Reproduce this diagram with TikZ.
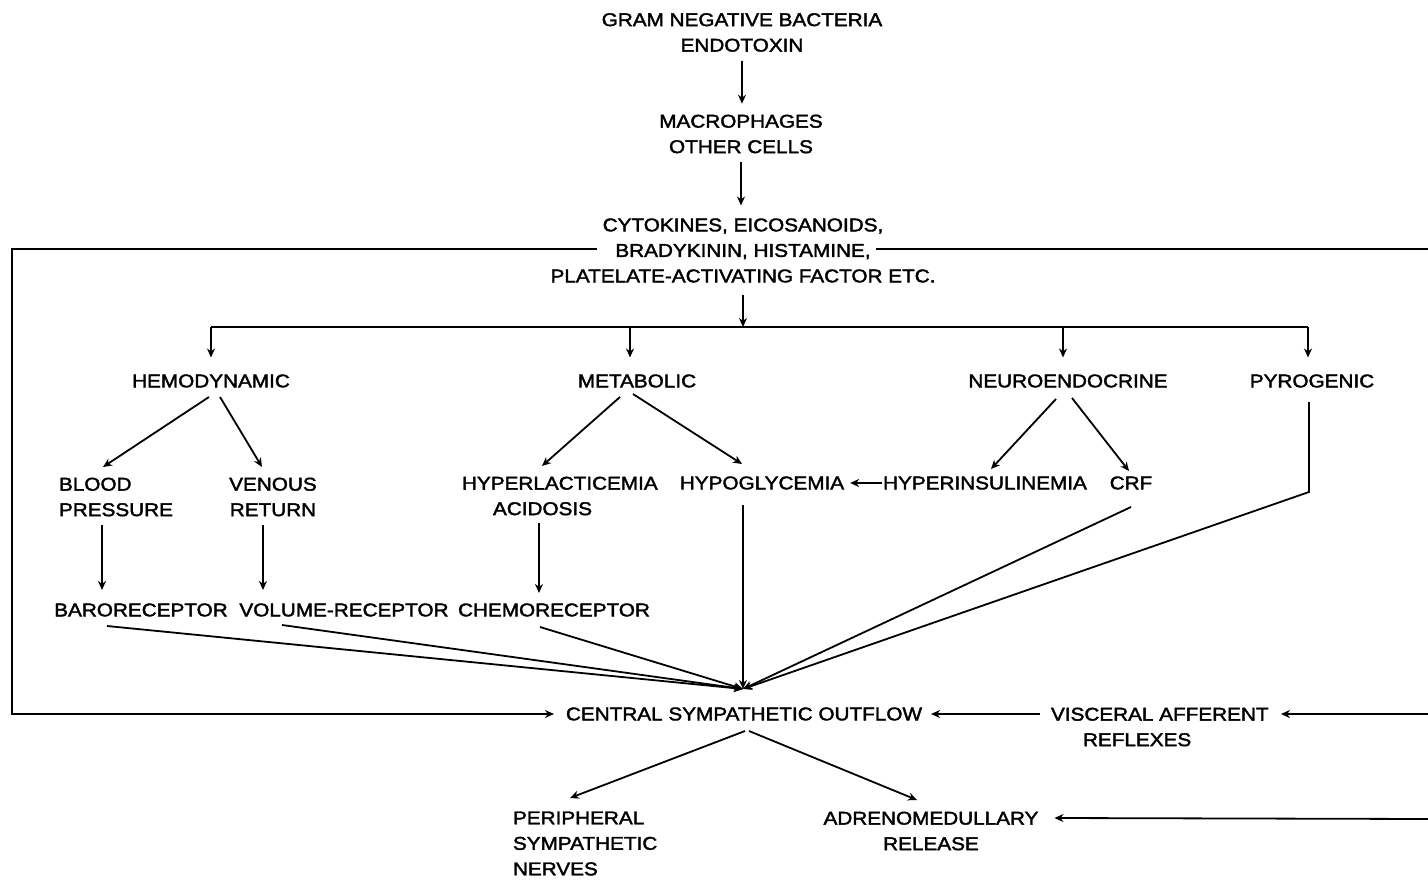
\documentclass[tikz,border=0pt]{standalone}
\usepackage{fontspec}
\setmainfont[FakeStretch=1.12,FakeBold=2]{Liberation Sans}
\usetikzlibrary{arrows.meta,calc}
\begin{document}
\begin{tikzpicture}[x=1pt,y=-1pt,
  lbl/.style={inner sep=0pt, outer sep=0pt, font=\fontsize{18.5}{25.5}\selectfont, align=center},
  lbll/.style={lbl, align=left, anchor=west},
  arr/.style={line width=1.8pt, -{Stealth[length=9pt,width=8pt]}},
  ln/.style={line width=1.8pt}]
\useasboundingbox (0,0) rectangle (1428,880);

\node[lbl] (gram) at (742,32.5) {GRAM NEGATIVE BACTERIA\\ENDOTOXIN};
\node[lbl] (macro) at (741,134) {MACROPHAGES\\OTHER CELLS};
\node[lbl] (cyt) at (743,250.5) {CYTOKINES, EICOSANOIDS,\\BRADYKININ, HISTAMINE,\\PLATELATE-ACTIVATING FACTOR ETC.};
\node[lbl] (hemo) at (211,381) {HEMODYNAMIC};
\node[lbl] (metab) at (637,381) {METABOLIC};
\node[lbl] (neuro) at (1068,381) {NEUROENDOCRINE};
\node[lbl] (pyro) at (1312,381) {PYROGENIC};
\node[lbll] (blood) at (59,497) {BLOOD\\PRESSURE};
\node[lbl] (venous) at (273,497) {VENOUS\\RETURN};
\node[lbll] (hlac) at (462,496) {HYPERLACTICEMIA\\\hspace*{31pt}ACIDOSIS};
\node[lbl] (hypo) at (762,483) {HYPOGLYCEMIA};
\node[lbl] (hins) at (985,483) {HYPERINSULINEMIA};
\node[lbl] (crf) at (1131,483) {CRF};
\node[lbl] (baro) at (141,610) {BARORECEPTOR};
\node[lbl] (vol) at (344,610) {VOLUME-RECEPTOR};
\node[lbl] (chemo) at (554,610) {CHEMORECEPTOR};
\node[lbl] (central) at (744,714) {CENTRAL SYMPATHETIC OUTFLOW};
\node[lbll] (visc) at (1051,727) {VISCERAL AFFERENT\\\hspace*{32pt}REFLEXES};
\node[lbll] (periph) at (513,843.5) {PERIPHERAL\\SYMPATHETIC\\NERVES};
\node[lbl] (adreno) at (931,831) {ADRENOMEDULLARY\\RELEASE};

\coordinate (bh) at (211,327);
\coordinate (bm) at (630,327);
\coordinate (bn) at (1063,327);
\coordinate (bp) at (1308,327);
\coordinate (conv) at ($(central)+(-1,-25)$);
\coordinate (re1) at (1428,714);
\coordinate (re2) at (1428,819);

% top chain
\draw[arr, shorten <=9pt, shorten >=11pt] (gram.south) -- (gram.south |- macro.north);
\draw[arr, shorten <=9pt, shorten >=13pt] (macro.south) -- (macro.south |- cyt.north);
\draw[arr, shorten <=12pt] (cyt.south) -- (cyt.south |- bh);
\draw[ln] (bh) -- (bp);
\draw[arr, shorten >=17pt] (bh) -- (bh |- hemo.north);
\draw[arr, shorten >=17pt] (bm) -- (bm |- metab.north);
\draw[arr, shorten >=17pt] (bn) -- (bn |- neuro.north);
\draw[arr, shorten >=17pt] (bp) -- (bp |- pyro.north);

% outer loops
\draw[arr, shorten >=12pt] ($(cyt)+(-146,-1.5)$) -- ++(-585,0) |- (central.west);
\draw[ln] ($(cyt)+(133,-1.5)$) -- ++(552,0);

% hemodynamic
\draw[arr] ($(hemo)+(-2,16)$) -- ($(blood.west)+(44,-30)$);
\draw[arr] ($(hemo)+(9,16)$) -- ($(venous)+(-11,-30)$);
\draw[arr] ($(blood.west)+(43,28)$) -- ($(baro)+(-39,-20)$);
\draw[arr] ($(venous)+(-10,28)$) -- ($(vol)+(-81,-20)$);

% metabolic
\draw[arr] ($(metab)+(-17,16)$) -- ($(hlac.west)+(80,-30)$);
\draw[arr] ($(metab)+(-4,13)$) -- ($(hypo)+(-20,-19)$);
\draw[arr] ($(hlac.west)+(77,27)$) -- ($(chemo)+(-15,-17)$);
\draw[arr, shorten <=1pt, shorten >=6pt] (hins.west) -- (hypo.east);

% neuroendocrine
\draw[arr] ($(neuro)+(-12,18)$) -- ($(hins)+(6,-14)$);
\draw[arr] ($(neuro)+(4,17)$) -- ($(crf)+(-2,-12)$);

% converging
\draw[arr] ($(baro)+(-34,16)$) -- (conv);
\draw[arr] ($(vol)+(-62,15)$) -- (conv);
\draw[arr] ($(chemo)+(-14,17)$) -- (conv);
\draw[arr] ($(hypo)+(-19,22)$) -- (conv);
\draw[arr] ($(crf)+(0,24)$) -- (conv);
\draw[arr] ($(pyro)+(-3,21)$) -- ++(0,90) -- (conv);

% central
\draw[arr] ($(visc.west)+(-11,-13)$) -- ($(central.east)+(9,0)$);
\draw[arr] (re1) -- ($(visc.west)+(230,-13)$);
\draw[arr] (re2) -- ($(adreno.east)+(16,-13)$);
\draw[arr] ($(central)+(1,17)$) -- ($(periph.west)+(57,-45.5)$);
\draw[arr] ($(central)+(5,17)$) -- ($(adreno)+(-14,-31)$);
\end{tikzpicture}
\end{document}
